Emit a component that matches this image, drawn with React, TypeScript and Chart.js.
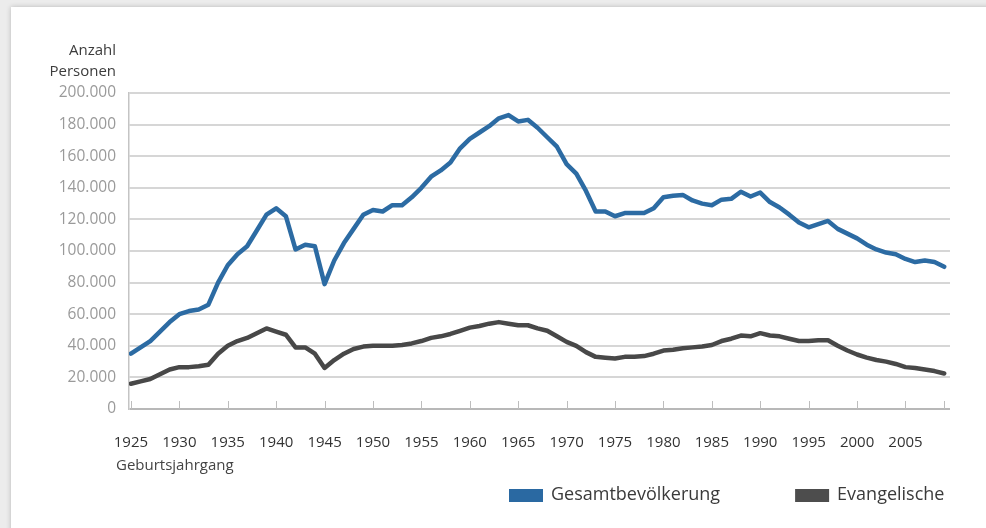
import React, { useEffect, useRef } from 'react';
import { Chart, registerables } from 'chart.js';

Chart.register(...registerables);

const startYear = 1925;

const gesamt = [
  35000, 39000, 43000, 49000, 55000, 60000, 62000, 63000, 66000, 80000,
  91000, 98000, 103000, 113000, 123000, 127000, 122000, 101000, 104000, 103000,
  79000, 94000, 105000, 114000, 123000, 126000, 125000, 129000, 129000, 134000,
  140000, 147000, 151000, 156000, 165000, 171000, 175000, 179000, 184000, 186000,
  182000, 183000, 178000, 172000, 166000, 155000, 149000, 138000, 125000, 125000,
  122000, 124000, 124000, 124000, 127000, 134000, 135000, 135500, 132000, 130000,
  129000, 132500, 133000, 137500, 134500, 137000, 131000, 127500, 123000, 118000,
  115000, 117000, 119000, 114000, 111000, 108000, 104000, 101000, 99000, 98000,
  95000, 93000, 94000, 93000, 90000,
];

const evangelisch = [
  16000, 17500, 19000, 22000, 25000, 26500, 26500, 27000, 28000, 35000,
  40000, 43000, 45000, 48000, 51000, 49000, 47000, 39000, 39000, 35000,
  26000, 31000, 35000, 38000, 39500, 40000, 40000, 40000, 40500, 41500,
  43000, 45000, 46000, 47500, 49500, 51500, 52500, 54000, 55000, 54000,
  53000, 53000, 51000, 49500, 46000, 42500, 40000, 36000, 33000, 32500,
  32000, 33000, 33000, 33500, 35000, 37000, 37500, 38500, 39000, 39500,
  40500, 43000, 44500, 46500, 46000, 48000, 46500, 46000, 44500, 43000,
  43000, 43500, 43500, 40000, 37000, 34500, 32500, 31000, 30000, 28500,
  26500, 26000, 25000, 24000, 22500,
];

const years = gesamt.map((_, i) => startYear + i);

const xTickYears = [1925, 1930, 1935, 1940, 1945, 1950, 1955, 1960, 1965, 1970, 1975, 1980, 1985, 1990, 1995, 2000, 2005];
const xTickMarkYears = [...xTickYears, 2009];

const seriesNames = ['Gesamtbevölkerung', 'Evangelische'];
const seriesColors = ['#2c6ba3', '#484848'];
const legendColors = ['#2a69a2', '#4d4d4d'];

const yAxisTitle = ['Anzahl', 'Personen'];
const xAxisTitle = 'Geburtsjahrgang';

const FONT = '"Open Sans", "Noto Sans", sans-serif';

function formatThousands(v: number): string {
  return String(v).replace(/\B(?=(\d{3})+(?!\d))/g, '.');
}

const extrasPlugin = {
  id: 'extras',
  beforeDatasetsDraw(chart: any) {
    const ctx = chart.ctx as CanvasRenderingContext2D;
    const area = chart.chartArea;
    const xs = chart.scales.x;
    ctx.save();
    ctx.strokeStyle = '#bdbdbd';
    ctx.lineWidth = 1;
    xTickMarkYears.forEach((yr) => {
      const px = Math.round(xs.getPixelForValue(yr)) + 0.5;
      ctx.beginPath();
      ctx.moveTo(px, area.bottom);
      ctx.lineTo(px, area.bottom - 8);
      ctx.stroke();
    });
    ctx.restore();
  },
  afterDraw(chart: any) {
    const ctx = chart.ctx as CanvasRenderingContext2D;
    ctx.save();
    ctx.font = `15px ${FONT}`;
    ctx.fillStyle = '#3c3c3c';
    ctx.textAlign = 'right';
    ctx.textBaseline = 'alphabetic';
    ctx.fillText(yAxisTitle[0], 116, 55);
    ctx.fillText(yAxisTitle[1], 116, 76);
    ctx.textAlign = 'left';
    ctx.fillStyle = '#444';
    ctx.fillText(xAxisTitle, 116, 470);

    // legend
    ctx.font = `18px ${FONT}`;
    let x = 509;
    chart.data.datasets.forEach((ds: any, i: number) => {
      ctx.fillStyle = legendColors[i];
      ctx.fillRect(x, 489, 34, 13);
      ctx.fillStyle = '#3a3a3a';
      ctx.fillText(ds.label, x + 42, 500);
      x += 42 + ctx.measureText(ds.label).width + 75;
    });
    ctx.restore();
  },
};

export default function App() {
  const canvasRef = useRef<HTMLCanvasElement | null>(null);

  useEffect(() => {
    const canvas = canvasRef.current;
    if (!canvas) return;
    Chart.defaults.font.family = FONT;
    const chart = new Chart(canvas, {
      type: 'line',
      data: {
        datasets: [
          {
            label: seriesNames[0],
            data: years.map((yr, i) => ({ x: yr, y: gesamt[i] })),
            borderColor: seriesColors[0],
            backgroundColor: seriesColors[0],
            borderWidth: 4.5,
            pointRadius: 0,
            tension: 0,
            borderJoinStyle: 'round',
            borderCapStyle: 'round',
          },
          {
            label: seriesNames[1],
            data: years.map((yr, i) => ({ x: yr, y: evangelisch[i] })),
            borderColor: seriesColors[1],
            backgroundColor: seriesColors[1],
            borderWidth: 4.5,
            pointRadius: 0,
            tension: 0,
            borderJoinStyle: 'round',
            borderCapStyle: 'round',
          },
        ],
      },
      options: {
        animation: false,
        responsive: false,
        devicePixelRatio: 1,
        layout: { padding: { top: 93, right: 36, left: 0, bottom: 0 } },
        plugins: {
          legend: { display: false },
          title: { display: false },
          tooltip: { enabled: false },
        },
        scales: {
          x: {
            type: 'linear',
            min: 1924.8,
            max: 2009.6,
            afterBuildTicks: (s: any) => {
              s.ticks = xTickYears.map((v) => ({ value: v }));
            },
            afterFit: (s: any) => {
              s.height = 119;
            },
            grid: { display: false, drawTicks: false },
            border: { display: false },
            ticks: {
              padding: 25,
              color: '#333',
              font: { size: 15 },
              maxRotation: 0,
              autoSkip: false,
              callback: (v: any) => String(v),
            },
          },
          y: {
            min: 0,
            max: 200000,
            afterFit: (s: any) => {
              s.width = 129;
            },
            grid: {
              color: (c: any) => (c.tick && c.tick.value === 0 ? '#b8b8b8' : '#d6d6d6'),
              lineWidth: 2,
              drawTicks: false,
            },
            border: { display: true, color: '#c4c4c4', width: 1.5 },
            ticks: {
              stepSize: 20000,
              padding: 13,
              color: '#9a9a9a',
              font: { size: 15.5 },
              callback: (v: any) => formatThousands(Number(v)),
            },
          },
        },
      },
      plugins: [extrasPlugin],
    } as any);
    return () => chart.destroy();
  }, []);

  return (
    <div
      style={{
        position: 'fixed',
        left: 0,
        top: 0,
        width: 986,
        height: 528,
        overflow: 'hidden',
        background: '#ececec',
      }}
    >
      <div
        style={{
          position: 'absolute',
          left: 11,
          top: 7,
          right: -10,
          bottom: -10,
          background: '#ffffff',
          boxShadow: '0 0 5px rgba(0,0,0,0.22)',
        }}
      />
      <canvas
        ref={canvasRef}
        width={986}
        height={528}
        style={{ position: 'absolute', left: 0, top: 0, width: 986, height: 528 }}
      />
    </div>
  );
}
